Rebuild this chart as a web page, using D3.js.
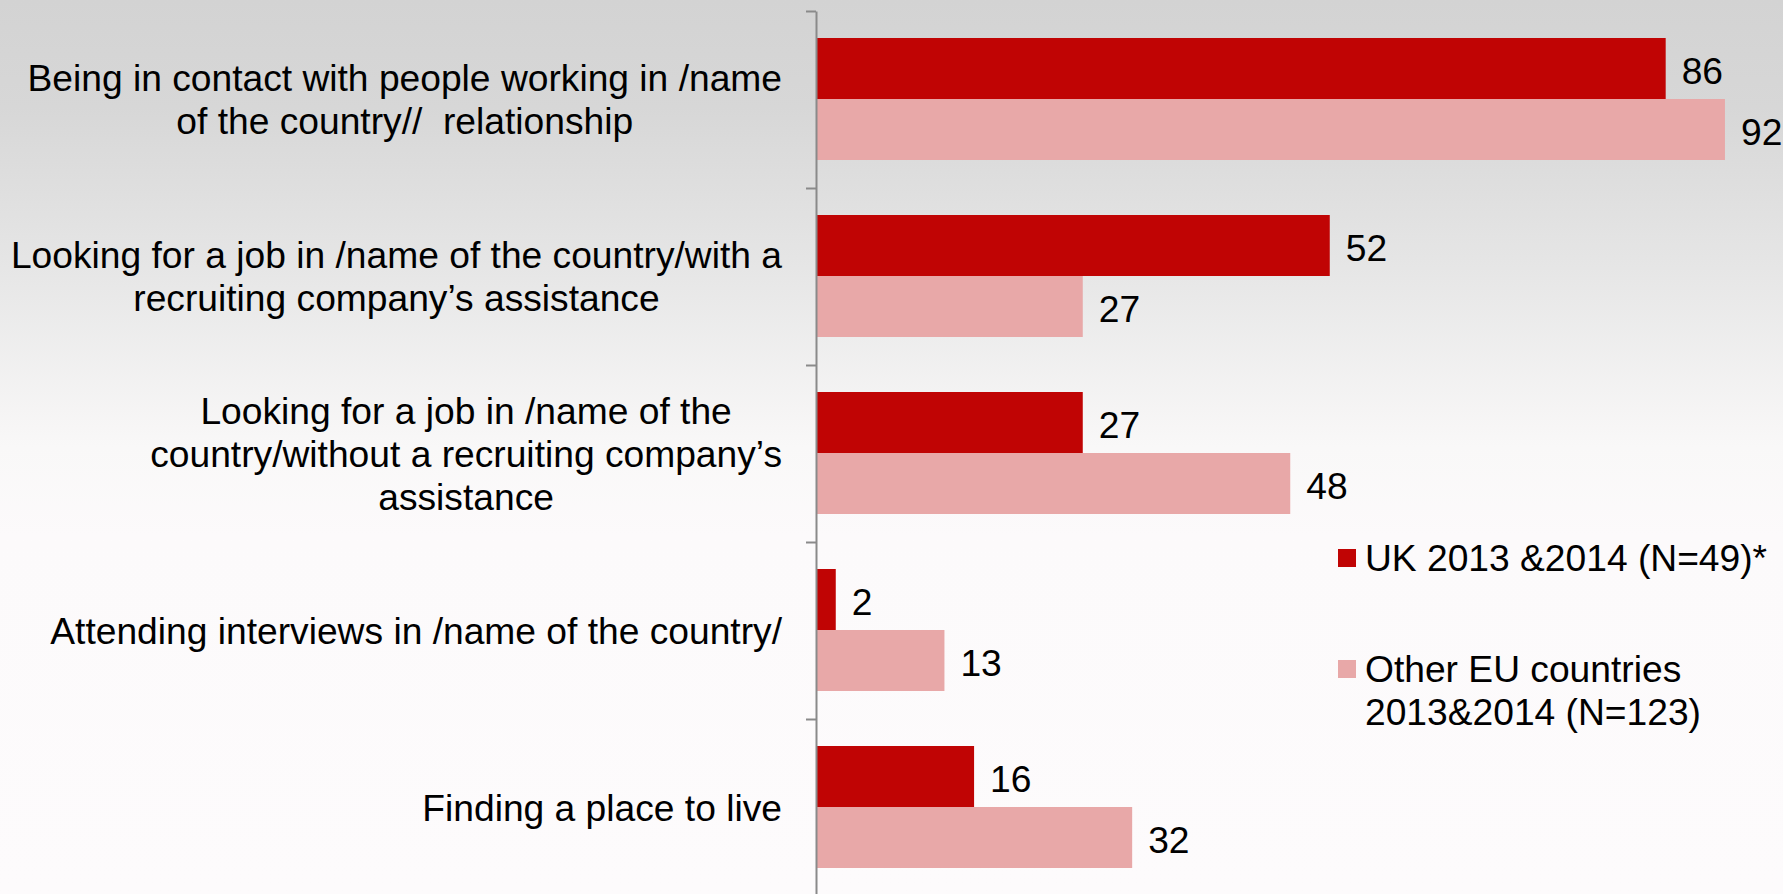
<!DOCTYPE html>
<html>
<head>
<meta charset="utf-8">
<script src="https://cdn.jsdelivr.net/npm/d3@7"></script>
<style>
html,body{margin:0;padding:0;}
body{width:1783px;height:894px;overflow:hidden;}
text{font-family:"Liberation Sans",Arial,sans-serif;fill:#000;white-space:pre;}
</style>
</head>
<body>
<svg id="chart" width="1783" height="894"></svg>
<script>
const categories = [
  ["Being in contact with people working in /name", "of the country//  relationship"],
  ["Looking for a job in /name of the country/with a", "recruiting company\u2019s assistance"],
  ["Looking for a job in /name of the", "country/without a recruiting company\u2019s", "assistance"],
  ["Attending interviews in /name of the country/"],
  ["Finding a place to live"]
];
const seriesNames = ["UK 2013 &2014 (N=49)*", "Other EU countries|2013&2014 (N=123)"];
const ukValues = [86, 52, 27, 2, 16];
const otherValues = [92, 27, 48, 13, 32];
const colors = ["#C00404", "#E8A8A8"];

const svg = d3.select("#chart");
const W = 1783, H = 894;
const fontSize = 37.2;

// background gradient
const defs = svg.append("defs");
const grad = defs.append("linearGradient").attr("id","bg").attr("x1",0).attr("y1",0).attr("x2",0).attr("y2",1);
[[0,"#d3d3d3"],[0.12,"#d7d7d7"],[0.3,"#e6e6e6"],[0.5,"#f9f8f8"],[0.6,"#fcfafb"],[1,"#fdfbfc"]].forEach(s=>{
  grad.append("stop").attr("offset",s[0]).attr("stop-color",s[1]);
});
svg.append("rect").attr("width",W).attr("height",H).attr("fill","url(#bg)");

const axisX = 816;
const x = d3.scaleLinear().domain([0, 100]).range([axisX, axisX + 988]);
const idx = d3.range(categories.length);
const y = d3.scaleBand().domain(idx).range([11, 11 + 177 * categories.length]).paddingInner(0).paddingOuter(0);
const inner = d3.scaleBand().domain([0,1]).range([27, 177 - 28]);

const data = idx.map(i => ({i, vals:[ukValues[i], otherValues[i]]}));

const groups = svg.append("g").selectAll("g").data(data).join("g")
  .attr("transform", d => `translate(0,${y(d.i)})`);

groups.selectAll("rect").data(d => d.vals.map((v,k)=>({v,k}))).join("rect")
  .attr("x", x(0))
  .attr("y", d => inner(d.k))
  .attr("width", d => x(d.v) - x(0))
  .attr("height", inner.bandwidth())
  .attr("fill", d => colors[d.k]);

groups.selectAll("text.val").data(d => d.vals.map((v,k)=>({v,k}))).join("text")
  .attr("class","val")
  .attr("x", d => x(d.v) + 16)
  .attr("y", d => inner(d.k) + inner.bandwidth()/2 + 2)
  .attr("dy","0.35em")
  .style("font-size", fontSize + "px")
  .text(d => d.v);

// axis
const axis = d3.axisLeft(d3.scaleLinear().domain([0,1]).range([11, 11+177*categories.length]))
  .tickValues(d3.range(categories.length+1).map(i=>i/categories.length))
  .tickSize(10).tickSizeOuter(0).tickFormat("");
const ag = svg.append("g").attr("transform",`translate(${axisX},0)`).call(axis);
ag.select(".domain").attr("stroke","#8a8a8a").attr("stroke-width",2);
ag.selectAll(".tick line").attr("stroke","#8a8a8a").attr("stroke-width",2);

// category labels
const labelRight = 782;
const lineH = 43;
idx.forEach(i => {
  const lines = categories[i];
  const cy = y(i) + y.bandwidth()/2;
  const t = svg.append("text").style("font-size", fontSize+"px").attr("text-anchor","middle");
  const ts = lines.map((ln, j) => t.append("tspan").attr("y", cy + (j - (lines.length-1)/2)*lineH).attr("dy","0.35em").text(ln));
  const widths = ts.map(s => s.node().getComputedTextLength());
  const mw = d3.max(widths);
  ts.forEach(s => s.attr("x", labelRight - mw/2));
});

// legend
const legY = [558, 669];
seriesNames.forEach((name, k) => {
  svg.append("rect").attr("x",1338).attr("y",legY[k]-9).attr("width",18).attr("height",18).attr("fill",colors[k]);
  const t = svg.append("text").attr("x",1365).style("font-size",fontSize+"px");
  name.split("|").forEach((ln,j)=>{
    t.append("tspan").attr("x",1365).attr("y",legY[k] + j*lineH).attr("dy","0.35em").text(ln);
  });
});
</script>
</body>
</html>
